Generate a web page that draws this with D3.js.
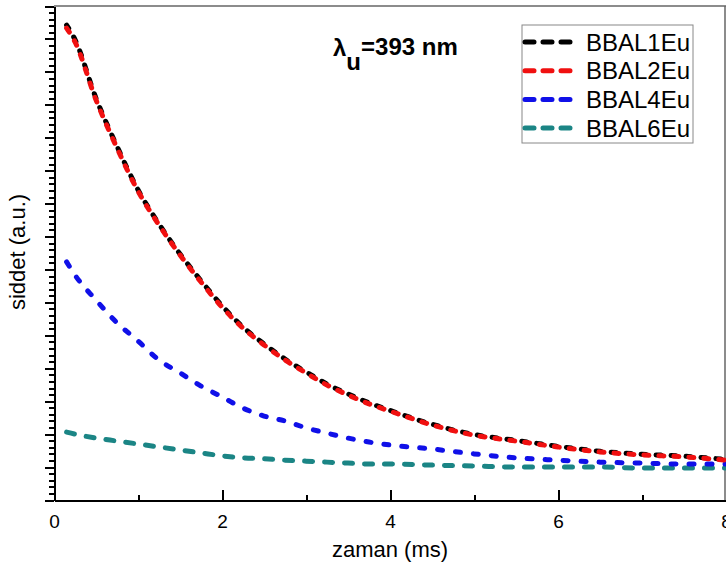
<!DOCTYPE html>
<html>
<head>
<meta charset="utf-8">
<style>
body { margin: 0; background: white; }
svg { display: block; font-family: "Liberation Sans", Arial, sans-serif; }
.axis path, .axis line { stroke: #000; stroke-width: 2px; shape-rendering: crispEdges; }
.axis text { font-size: 19px; fill: #000; }
</style>
<script src="https://d3js.org/d3.v7.min.js"></script>
</head>
<body>
<svg id="chart" width="726" height="568"></svg>
<script>
// time axis (ms)
const times = [0.15, 0.25, 0.5, 0.75, 1, 1.25, 1.5, 1.75, 2, 2.25, 2.5, 2.75, 3, 3.25, 3.5, 3.75, 4, 4.5, 5, 5.5, 6, 6.5, 7, 7.5, 8];

// intensities (a.u.)
const bbal1 = [14.42, 13.98, 12.2, 10.74, 9.42, 8.38, 7.47, 6.66, 5.9, 5.25, 4.74, 4.28, 3.89, 3.52, 3.22, 2.95, 2.72, 2.3, 1.99, 1.81, 1.63, 1.48, 1.39, 1.33, 1.23];
const bbal2 = [14.33, 13.91, 12.15, 10.69, 9.38, 8.35, 7.44, 6.62, 5.86, 5.22, 4.71, 4.25, 3.86, 3.49, 3.19, 2.92, 2.7, 2.28, 1.97, 1.79, 1.61, 1.46, 1.37, 1.31, 1.21];
const bbal4 = [7.23, 6.83, 6.07, 5.38, 4.83, 4.25, 3.86, 3.46, 3.13, 2.79, 2.55, 2.4, 2.19, 2.03, 1.88, 1.76, 1.67, 1.55, 1.4, 1.28, 1.21, 1.15, 1.12, 1.09, 1.09];
const bbal6 = [2.06, 2.0, 1.88, 1.79, 1.7, 1.61, 1.52, 1.43, 1.34, 1.28, 1.25, 1.21, 1.18, 1.15, 1.12, 1.09, 1.09, 1.06, 1.03, 1.0, 1.0, 1.0, 0.97, 0.97, 0.97];

const seriesNames = ['BBAL1Eu', 'BBAL2Eu', 'BBAL4Eu', 'BBAL6Eu'];
const xMajorTicks = [0, 2, 4, 6, 8];
const xMinorTicks = [1, 3, 5, 7];

const svg = d3.select('#chart');
const margin = { top: 6, right: 0, bottom: 68, left: 54 };
const width = 726 - margin.left - margin.right;
const height = 568 - margin.top - margin.bottom;
const g = svg.append('g').attr('transform', `translate(${margin.left},${margin.top})`);

const x = d3.scaleLinear().domain([0, 8]).range([0, width]);
const y = d3.scaleLinear().domain([0, 15]).range([height, 0]);

const series = [
  { name: seriesNames[0], values: bbal1, color: '#000000', dash: '5,10', offset: 1 },
  { name: seriesNames[1], values: bbal2, color: '#f01010', dash: '5,10', offset: 0 },
  { name: seriesNames[2], values: bbal4, color: '#1010e8', dash: '5,13', offset: 0 },
  { name: seriesNames[3], values: bbal6, color: '#1b8585', dash: '8,12', offset: 0 }
];

// frame (top + right)
g.append('line').attr('x1', 0).attr('x2', width).attr('y1', 0).attr('y2', 0)
  .attr('stroke', '#666').attr('stroke-width', 1.5);
g.append('line').attr('x1', width - 1).attr('x2', width - 1).attr('y1', 0).attr('y2', height)
  .attr('stroke', '#666').attr('stroke-width', 1.5);

// y axis: no labels, outward ticks
const yMinor = d3.range(0, 15.001, 0.2);
g.append('g').attr('class', 'axis')
  .call(d3.axisLeft(y).tickValues(yMinor).tickSize(5).tickSizeOuter(0).tickFormat(''));
g.append('g').attr('class', 'axis')
  .call(d3.axisLeft(y).tickValues(d3.range(0, 16, 1)).tickSize(9).tickSizeOuter(0).tickFormat(''));

// x axis: inward ticks
g.append('g').attr('class', 'axis')
  .attr('transform', `translate(0,${height})`)
  .call(d3.axisBottom(x).tickValues(xMinorTicks).tickSize(-5).tickSizeOuter(0).tickFormat(''));
const xAxis = g.append('g').attr('class', 'axis')
  .attr('transform', `translate(0,${height})`)
  .call(d3.axisBottom(x).tickValues(xMajorTicks).tickSize(-10).tickSizeOuter(0).tickPadding(15).tickFormat(d3.format('d')));
xAxis.selectAll('.tick text').attr('dy', '0.71em');

// lines
svg.append('clipPath').attr('id', 'clip')
  .append('rect').attr('width', width).attr('height', height);
const plot = g.append('g').attr('clip-path', 'url(#clip)');
const line = d3.line().x((d, i) => x(times[i])).y(d => y(d)).curve(d3.curveMonotoneX);

[series[3], series[2], series[0], series[1]].forEach(s => {
  plot.append('path')
    .datum(s.values)
    .attr('d', line)
    .attr('fill', 'none')
    .attr('stroke', s.color)
    .attr('stroke-width', 5)
    .attr('stroke-linecap', 'round')
    .attr('stroke-dasharray', s.dash)
    .attr('stroke-dashoffset', s.offset);
});

// axis titles
svg.append('text')
  .attr('x', margin.left + width / 2).attr('y', 557)
  .attr('text-anchor', 'middle').attr('font-size', 22)
  .text('zaman (ms)');
svg.append('text')
  .attr('transform', 'translate(25,252) rotate(-90)')
  .attr('text-anchor', 'middle').attr('font-size', 22)
  .text('siddet (a.u.)');

// annotation
const ann = svg.append('text').attr('x', 333).attr('y', 56)
  .attr('font-size', 24).attr('font-weight', 'bold');
ann.append('tspan').text('λ');
ann.append('tspan').attr('dy', 14).text('u');
ann.append('tspan').attr('dy', -15).text('=393 nm');

// legend
const legend = svg.append('g');
legend.append('rect')
  .attr('x', 522).attr('y', 25).attr('width', 171).attr('height', 118)
  .attr('fill', 'white').attr('stroke', '#888').attr('stroke-width', 1);
const items = legend.selectAll('g.item').data(series).enter().append('g')
  .attr('class', 'item')
  .attr('transform', (d, i) => `translate(0,${42 + i * 28.7})`);
items.append('line')
  .attr('x1', 525).attr('x2', 571).attr('y1', 0).attr('y2', 0)
  .attr('stroke', d => d.color).attr('stroke-width', 5)
  .attr('stroke-linecap', 'round').attr('stroke-dasharray', '9,9');
items.append('text')
  .attr('x', 586).attr('y', 8.5)
  .attr('font-size', 24)
  .text(d => d.name);
</script>
</body>
</html>
